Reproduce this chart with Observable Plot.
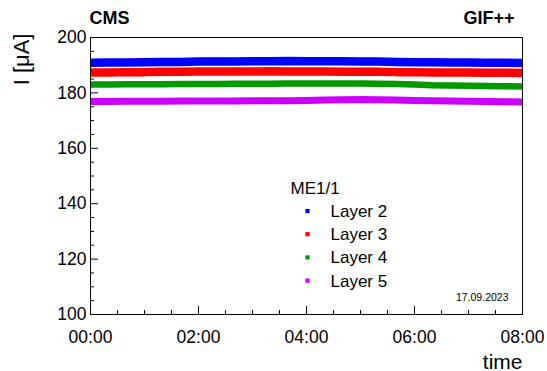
<!DOCTYPE html>
<html>
<head>
<meta charset="utf-8">
<script src="https://cdn.jsdelivr.net/npm/d3@7"></script>
<script src="https://cdn.jsdelivr.net/npm/@observablehq/plot@0.6"></script>
<style>
  html, body { margin: 0; padding: 0; background: white; }
  #chart { width: 547px; height: 371px; }
</style>
</head>
<body>
<div id="chart"></div>
<script>
// time in minutes since 00:00 (samples every 20 min)
const minutes = [0,20,40,60,80,100,120,140,160,180,200,220,240,260,280,300,320,340,360,380,400,420,440,460,480];
// currents in µA
const layer2 = [190.9,191.0,191.0,191.1,191.2,191.2,191.3,191.3,191.3,191.4,191.4,191.5,191.4,191.4,191.4,191.3,191.3,191.2,191.1,191.1,191.0,191.0,190.9,190.9,190.8];
const layer3 = [187.4,187.4,187.5,187.5,187.6,187.6,187.7,187.7,187.7,187.7,187.8,187.7,187.7,187.7,187.6,187.6,187.6,187.5,187.5,187.4,187.4,187.4,187.3,187.3,187.2];
const layer4 = [183.0,183.0,183.1,183.1,183.1,183.2,183.2,183.2,183.3,183.3,183.3,183.4,183.4,183.4,183.4,183.4,183.3,183.2,183.0,182.8,182.7,182.6,182.5,182.4,182.3];
const layer5 = [176.9,176.9,177.0,177.0,177.0,177.1,177.1,177.1,177.1,177.2,177.2,177.2,177.3,177.4,177.5,177.6,177.5,177.4,177.3,177.2,177.1,177.0,176.9,176.8,176.7];

const layerNames = ["Layer 2", "Layer 3", "Layer 4", "Layer 5"];
const layerColors = ["#0000ff", "#ff0000", "#009900", "#cc00ff"];
const layerValues = [layer2, layer3, layer4, layer5];
const bandWidths = [8.5, 8.5, 6.5, 7];

const xMajor = [0, 120, 240, 360, 480];
const xMinor = [30, 60, 90, 150, 180, 210, 270, 300, 330, 390, 420, 450];
const yMajor = [100, 120, 140, 160, 180, 200];
const yMinor = [105, 110, 115, 125, 130, 135, 145, 150, 155, 165, 170, 175, 185, 190, 195];

const rows = [];
layerValues.forEach((vals, i) => vals.forEach((v, j) => rows.push({t: minutes[j], v, layer: layerNames[i]})));

const fmtTime = m => String(Math.floor(m / 60)).padStart(2, "0") + ":" + String(m % 60).padStart(2, "0");
const font = "'Liberation Sans', Arial, Helvetica, sans-serif";

const chart = Plot.plot({
  width: 547,
  height: 371,
  marginLeft: 90,
  marginRight: 25,
  marginTop: 37,
  marginBottom: 57,
  style: {fontFamily: font, fontSize: "17.5px", background: "white", color: "black"},
  x: {domain: [0, 480], label: null},
  y: {domain: [100, 200], label: null},
  color: {domain: layerNames, range: layerColors},
  marks: [
    ...layerNames.map((name, i) =>
      Plot.line(rows.filter(d => d.layer === name), {x: "t", y: "v", stroke: layerColors[i], strokeWidth: bandWidths[i], strokeLinecap: "butt", strokeLinejoin: "miter"})
    ),
    Plot.frame({stroke: "black", strokeWidth: 1}),
    // Y axis: labels, major and minor ticks (inside)
    Plot.axisY(yMajor, {anchor: "left", tickSize: 0, tickPadding: 4, fontSize: 17.5, label: null}),
    Plot.axisY(yMajor, {anchor: "left", tickSize: 8, dx: 8, tickFormat: () => "", label: null}),
    Plot.axisY(yMinor, {anchor: "left", tickSize: 4, dx: 4, tickFormat: () => "", label: null}),
    // X axis
    Plot.axisX(xMajor, {anchor: "bottom", tickSize: 0, tickPadding: 16, fontSize: 17.5, tickFormat: fmtTime, label: null}),
    Plot.axisX(xMajor, {anchor: "bottom", tickSize: 8, dy: -8, tickFormat: () => "", label: null}),
    Plot.axisX(xMinor, {anchor: "bottom", tickSize: 4, dy: -4, tickFormat: () => "", label: null}),
    // titles
    Plot.text(["CMS"], {frameAnchor: "top-left", textAnchor: "start", lineAnchor: "bottom", dx: -1, dy: -14, fontSize: 18, fontWeight: "bold"}),
    Plot.text(["GIF++"], {frameAnchor: "top-right", textAnchor: "end", lineAnchor: "bottom", dx: -8, dy: -14, fontSize: 18, fontWeight: "bold"}),
    Plot.text(["time"], {frameAnchor: "bottom-right", textAnchor: "end", lineAnchor: "bottom", dx: 0, dy: 54, fontSize: 21}),
    Plot.text(["I [μA]"], {frameAnchor: "top-left", textAnchor: "end", lineAnchor: "bottom", rotate: -90, dx: -62, dy: -4, fontSize: 22}),
    Plot.text(["17.09.2023"], {frameAnchor: "bottom-right", textAnchor: "end", lineAnchor: "bottom", dx: -14, dy: -14, fontSize: 10.5}),
    // legend
    Plot.text(["ME1/1"], {frameAnchor: "top-left", textAnchor: "start", lineAnchor: "bottom", dx: 200, dy: 156, fontSize: 17}),
    ...layerNames.map((name, i) =>
      Plot.text([name], {frameAnchor: "top-left", textAnchor: "start", lineAnchor: "bottom", dx: 240, dy: 179.5 + i * 23.2, fontSize: 17})
    ),
    ...layerNames.map((name, i) =>
      Plot.dot([name], {frameAnchor: "top-left", dx: 217, dy: 173.5 + i * 23.2, symbol: "square", r: 2.4, fill: layerColors[i], stroke: "none"})
    )
  ]
});
document.getElementById("chart").appendChild(chart);
</script>
</body>
</html>
